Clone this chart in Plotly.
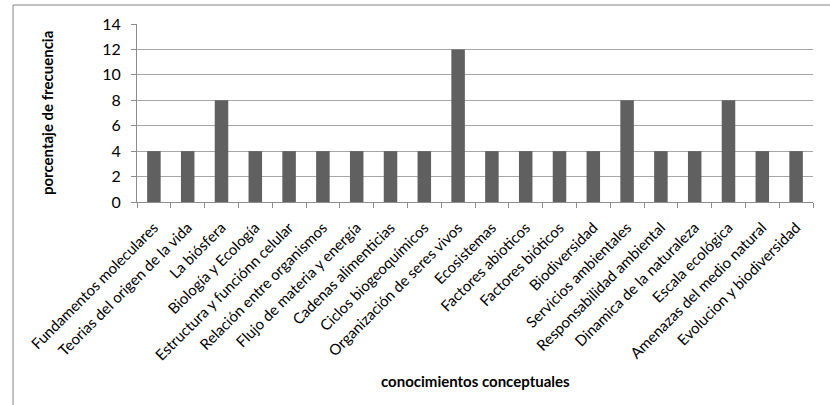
import plotly.graph_objects as go

# Conceptual knowledge topics and their frequency percentage
categorias = [
    "Fundamentos moleculares",
    "Teorias del origen de la vida",
    "La biósfera",
    "Biología y Ecología",
    "Estructura y funciónn celular",
    "Relación entre organismos",
    "Flujo de materia y energía",
    "Cadenas alimenticias",
    "Ciclos biogeoquímicos",
    "Organización de seres vivos",
    "Ecosistemas",
    "Factores abioticos",
    "Factores bióticos",
    "Biodiversidad",
    "Servicios ambientales",
    "Responsabilidad ambiental",
    "Dinamica de la naturaleza",
    "Escala ecológica",
    "Amenazas del medio natural",
    "Evolucion y biodiversidad",
]
porcentajes = [4, 4, 8, 4, 4, 4, 4, 4, 4, 12, 4, 4, 4, 4, 8, 4, 4, 8, 4, 4]
y_ticks = [0, 2, 4, 6, 8, 10, 12, 14]

FONT = "Lato, Carlito, Calibri, sans-serif"

fig = go.Figure(
    go.Bar(
        x=categorias,
        y=porcentajes,
        marker=dict(color="#606060", line=dict(width=0)),
        width=0.4,
    )
)

fig.update_layout(
    width=830,
    height=405,
    margin=dict(l=137, r=17, t=24, b=203, autoexpand=False),
    paper_bgcolor="white",
    plot_bgcolor="white",
    showlegend=False,
    font=dict(family=FONT, color="black"),
    bargap=0.6,
)

fig.update_xaxes(
    type="category",
    tickson="boundaries",
    ticks="outside",
    ticklen=5,
    tickcolor="#8c8c8c",
    showline=True,
    linecolor="#8c8c8c",
    linewidth=1,
    showgrid=False,
    tickangle=-45,
    tickfont=dict(family=FONT, size=15, color="black"),
    ticklabelstandoff=10,
    automargin=False,
)

fig.update_yaxes(
    range=[0, 14],
    tickvals=y_ticks,
    ticks="outside",
    ticklen=5,
    tickcolor="#8c8c8c",
    showline=True,
    linecolor="#8c8c8c",
    linewidth=1,
    showgrid=True,
    gridcolor="#a6a6a6",
    gridwidth=1,
    zeroline=False,
    tickfont=dict(family=FONT, size=16, color="black"),
    ticklabelstandoff=7,
    automargin=False,
)

# Axis titles
fig.add_annotation(
    text="<b>porcentaje de frecuencia</b>",
    xref="paper", yref="paper",
    x=-0.133, y=0.5,
    xanchor="center", yanchor="middle",
    textangle=-90,
    showarrow=False,
    font=dict(family=FONT, size=15, color="black"),
)
fig.add_annotation(
    text="<b>conocimientos conceptuales</b>",
    xref="paper", yref="paper",
    x=0.5, y=-1.0056,
    xanchor="center", yanchor="middle",
    showarrow=False,
    font=dict(family=FONT, size=15, color="black"),
)

# Chart frame
fig.add_shape(
    type="rect",
    xref="paper", yref="paper",
    x0=-0.1834, x1=1.04,
    y0=-1.2, y1=1.1067,
    line=dict(color="#868686", width=1),
    fillcolor="rgba(0,0,0,0)",
    layer="below",
)

fig.write_html("out.html")
